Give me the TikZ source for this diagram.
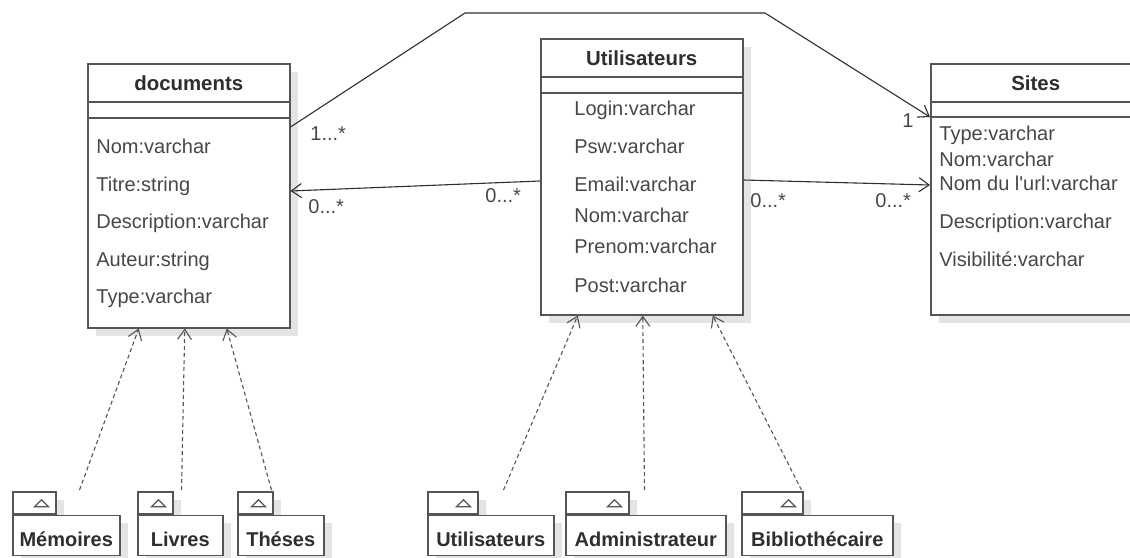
\documentclass[tikz,border=0pt]{standalone}
\usepackage{fontspec}
\setmainfont{Liberation Sans}
\usepackage{tikz}
\usetikzlibrary{arrows.meta,shadows,calc}
\definecolor{BoxLine}{HTML}{555555}
\definecolor{InkDark}{HTML}{2E2E2E}
\definecolor{InkSoft}{HTML}{474747}
\definecolor{ShadowGray}{HTML}{E4E4E4}

\begin{document}
\begin{tikzpicture}[x=0.5pt, y=-0.5pt,
    every node/.style={font=\fontsize{10}{12}\selectfont, text=InkDark, inner sep=0pt},
    classbox/.style={draw=BoxLine, line width=0.75pt, fill=white, anchor=north west,
      drop shadow={shadow xshift=4pt, shadow yshift=-4pt, fill=ShadowGray, opacity=1}},
    classtitle/.style={anchor=base, font=\fontsize{10.2}{12}\selectfont\bfseries},
    attr/.style={anchor=base west, text=InkSoft},
    mult/.style={anchor=base west, text=InkSoft},
    pkgtab/.style={classbox, minimum height=11pt},
    pkgbox/.style={classbox, minimum height=20pt, text height=11pt, text depth=0pt,
      font=\fontsize{10}{12}\selectfont\bfseries},
    assoc/.style={draw=InkDark, line width=0.55pt},
    openhead/.style={-{Straight Barb[length=5pt,width=7pt]}},
    realize/.style={assoc, draw=BoxLine, dash pattern=on 2pt off 1.5pt, openhead}]
  \useasboundingbox (0,0) rectangle (1130,557);
  \clip (0,0) rectangle (1130,557);
  % classes
  \node[classbox, minimum width=101pt, minimum height=132pt] (doc) at (87,63) {};
  \node[classbox, minimum width=101pt, minimum height=138pt] (util) at (540,38) {};
  \node[classbox, minimum width=105pt, minimum height=125.5pt] (sites) at (930,63) {};
  \foreach \c/\a/\b in {doc/39/55, util/39/55, sites/39/54} {
    \draw[BoxLine, line width=0.75pt] ($(\c.north west)+(0,\a)$) -- ($(\c.north east)+(0,\a)$)
      ($(\c.north west)+(0,\b)$) -- ($(\c.north east)+(0,\b)$);
  }
  \node[classtitle] (docT) at ($(doc.north)+(0,27)$) {documents};
  \node[classtitle] (utilT) at ($(util.north)+(0,27)$) {Utilisateurs};
  \node[classtitle] (sitesT) at ($(sites.north)+(0,27)$) {Sites};
  % attributes
  \foreach \txt/\y [count=\i] in {Nom:varchar/153, Titre:string/191,
      Description:varchar/228, Auteur:string/266, Type:varchar/303}
    \node[attr] (docA\i) at (96,\y) {\txt};
  \foreach \txt/\y [count=\i] in {Login:varchar/115, Psw:varchar/153, Email:varchar/191,
      Nom:varchar/222, Prenom:varchar/253, Post:varchar/292}
    \node[attr] (utilA\i) at (574,\y) {\txt};
  \foreach \txt/\y [count=\i] in {Type:varchar/140, Nom:varchar/166,
      Nom du l\textquotesingle url:varchar/190,
      Description:varchar/228, Visibilité:varchar/266}
    \node[attr] (sitesA\i) at (939,\y) {\txt};
  % associations
  \coordinate (bendL) at (465,13);
  \coordinate (bendR) at (765,13);
  \draw[assoc, openhead] ($(doc.north east)+(0,64)$) -- (bendL) -- (bendR)
    -- ($(sites.north west)+(0,54)$);
  \draw[assoc, openhead] ($(util.north west)+(0,143)$) -- ($(doc.north east)+(0,128)$);
  \draw[assoc, openhead] ($(util.north east)+(0,142)$) -- ($(sites.north west)+(0,122)$);
  \node[mult] (mDocTop) at (310,140) {1...*};
  \node[mult] (mDocIn) at (308,213) {0...*};
  \node[mult] (mUtilL) at (485,202) {0...*};
  \node[mult] (mUtilR) at (750,207) {0...*};
  \node[mult] (mSitesIn) at (875,207) {0...*};
  \node[mult] (mSitesTop) at (902,127) {1};
  % packages
  \foreach \pk/\x/\tw/\w/\txt in {mem/12/43/107/Mémoires, liv/137/35/85/Livres,
      the/237/35/86/Théses, usr/427/50/126/Utilisateurs,
      adm/565/63/160/Administrateur, bib/741/61/151/Bibliothécaire} {
    \node[pkgtab, minimum width=\tw*0.5pt] (\pk Tab) at (\x,491) {};
    \node[pkgbox, minimum width=\w*0.5pt] (\pk) at (\pk Tab.south west) {\txt};
    \draw[BoxLine, line width=0.6pt] ($(\pk Tab.east)+(-15,0)$)
      +(-7,4) -- +(7,4) -- +(0,-3) -- cycle;
  }
  \draw[realize] ($(memTab.north east)+(23,-1)$) -- ($(doc.south)+(-50,0)$);
  \draw[realize] ($(livTab.north east)+(8,-1)$) -- ($(doc.south)+(-4,0)$);
  \draw[realize] ($(theTab.north east)+(-2,-1)$) -- ($(doc.south)+(38,0)$);
  \draw[realize] ($(usrTab.north east)+(25,-1)$) -- ($(util.south)+(-64,0)$);
  \draw[realize] ($(admTab.north east)+(15,-1)$) -- ($(util.south)+(1,0)$);
  \draw[realize] ($(bibTab.north east)+(-2,-1)$) -- ($(util.south)+(71,0)$);
\end{tikzpicture}
\end{document}
